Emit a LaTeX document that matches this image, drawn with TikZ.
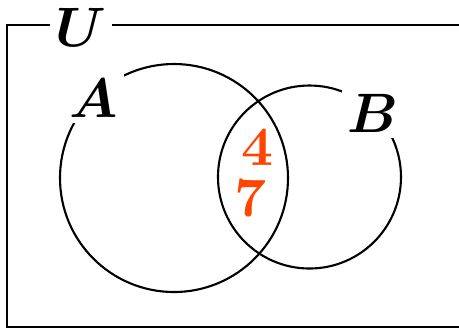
\documentclass[tikz,border=0pt]{standalone}
\usepackage{bm}
\usetikzlibrary{positioning}
\definecolor{VennInk}{RGB}{0,0,0}
\definecolor{VennOrange}{RGB}{255,69,0}
\tikzset{
  venn/frame/.style={draw=VennInk, line width=0.5pt},
  venn/set/.style={circle, draw=VennInk, line width=0.38pt, inner sep=0pt},
  venn/name/.style={fill=white, inner sep=1pt, text=VennInk},
  venn/elem/.style={inner sep=0pt, text=VennOrange, font=\bfseries}
}
\begin{document}
\begin{tikzpicture}[x=0.18pt,y=-0.18pt]
  \useasboundingbox (0,0) rectangle (459,329);
  \clip (0,0) rectangle (459,329);
  % universe
  \draw[venn/frame] (7,25) rectangle (480,327);
  \node[venn/name] (nameU) at (81,27) {$\bm{U}$};
  % the two sets
  \node[venn/set, minimum size=41.04pt] (setA) at (174,178) {};
  \node[venn/set, minimum size=32.94pt] (setB) at (309.5,177) {};
  \node[venn/name] (nameA) at (94,98) {$\bm{A}$};
  \node[venn/name] (nameB) at (373,113) {$\bm{B}$};
  % elements of the intersection
  \node[venn/elem] (elemFour) at (257,147) {4};
  \node[venn/elem] (elemSeven) at (250,198) {7};
\end{tikzpicture}
\end{document}
